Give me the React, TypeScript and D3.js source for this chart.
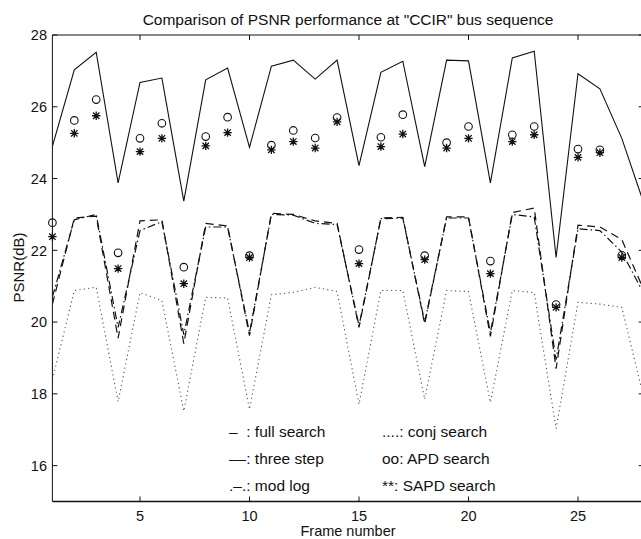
import React from "react";
import * as d3 from "d3";

const frames = [1,2,3,4,5,6,7,8,9,10,11,12,13,14,15,16,17,18,19,20,21,22,23,24,25,26,27,28];

const fullSearch = [24.9,27.03,27.52,23.88,26.68,26.8,23.37,26.75,27.08,24.87,27.13,27.3,26.77,27.3,24.36,26.96,27.27,24.33,27.3,27.28,23.88,27.36,27.55,21.8,26.92,26.5,25.12,23.32];

const threeStep = [20.5,22.9,22.95,19.55,22.82,22.85,19.4,22.75,22.68,19.62,23.03,23.0,22.82,22.75,19.85,22.9,22.92,19.95,22.93,22.93,19.6,23.05,23.18,18.7,22.7,22.65,22.3,20.9];

const modLog = [20.7,22.85,23.0,19.85,22.55,22.8,19.65,22.65,22.65,19.7,23.0,22.98,22.75,22.72,19.9,22.88,22.9,20.0,22.9,22.9,19.7,23.0,22.93,18.95,22.6,22.55,21.95,20.8];

const conjSearch = [18.4,20.88,20.97,17.78,20.82,20.6,17.52,20.69,20.67,17.57,20.76,20.83,20.97,20.85,17.71,20.88,20.88,17.85,20.88,20.85,17.76,20.88,20.82,17.03,20.55,20.5,20.41,17.9];

const apdFrames = [1,2,3,4,5,6,7,8,9,10,11,12,13,14,15,16,17,18,19,20,21,22,23,24,25,26,27];
const apdSearch = [22.77,25.62,26.2,21.93,25.12,25.54,21.53,25.17,25.71,21.85,24.93,25.34,25.13,25.7,22.02,25.15,25.78,21.85,25.0,25.45,21.7,25.22,25.45,20.49,24.82,24.8,21.86];
const sapdSearch = [22.38,25.26,25.75,21.49,24.75,25.12,21.07,24.91,25.28,21.8,24.8,25.03,24.85,25.58,21.63,24.89,25.24,21.74,24.85,25.12,21.35,25.03,25.22,20.41,24.59,24.72,21.8];

const xTicks = [5, 10, 15, 20, 25];
const yTicks = [16, 18, 20, 22, 24, 26, 28];

const titleText = 'Comparison of PSNR performance at "CCIR" bus sequence';
const xLabel = "Frame number";
const yLabel = "PSNR(dB)";
const legendLeft = ["–  : full search", "––: three step", ".–.: mod log"];
const legendRight = ["....: conj search", "oo: APD search", "**: SAPD search"];

const W = 641, H = 539;
const FONT = "'Liberation Sans', Arial, Helvetica, sans-serif";

export default function App() {
  const x = d3.scaleLinear().domain([1, 28]).range([52.4, 643.7]);
  const y = d3.scaleLinear().domain([15, 28]).range([501.5, 35]);
  const [x0, x1] = x.range();
  const [yb, yt] = y.range();

  const mk = (vals: number[]) =>
    d3.line<number>().x((_, i) => x(frames[i])).y((d) => y(d))(vals) || "";

  const tickLen = 5;

  return (
    <div style={{ position: "absolute", left: 0, top: 0 }}>
      <svg width={W} height={H} style={{ display: "block", background: "#fff" }} fontFamily={FONT}>
        <defs>
          <clipPath id="plotclip">
            <rect x={x0} y={yt} width={x1 - x0} height={yb - yt} />
          </clipPath>
        </defs>
        <rect x={0} y={0} width={W} height={H} fill="#fff" />

        <g clipPath="url(#plotclip)" fill="none">
          <path d={mk(conjSearch)} stroke="#555" strokeWidth={1.1} strokeDasharray="1.2,3.2" />
          <path d={mk(modLog)} stroke="#111" strokeWidth={1.2} strokeDasharray="8,3,1.5,3" />
          <path d={mk(threeStep)} stroke="#111" strokeWidth={1.2} strokeDasharray="8,5" />
          <path d={mk(fullSearch)} stroke="#111" strokeWidth={1.1} />
        </g>

        {/* APD circles */}
        <g fill="none" stroke="#111" strokeWidth={1.1}>
          {apdSearch.map((v, i) => (
            <circle key={"c" + i} cx={x(apdFrames[i])} cy={y(v)} r={3.8} />
          ))}
        </g>
        {/* SAPD stars */}
        <g fill="none" stroke="#111" strokeWidth={1.3}>
          {sapdSearch.map((v, i) => {
            const cx = x(apdFrames[i]);
            const cy = y(v);
            const a = 4.2, b = 3.2;
            return (
              <path
                key={"s" + i}
                d={`M${cx - a},${cy}L${cx + a},${cy}M${cx},${cy - a}L${cx},${cy + a}M${cx - b},${cy - b}L${cx + b},${cy + b}M${cx - b},${cy + b}L${cx + b},${cy - b}`}
              />
            );
          })}
        </g>

        {/* axes box */}
        <g stroke="#111" strokeWidth={1} fill="none">
          <line x1={x0} y1={yb} x2={x1} y2={yb} strokeWidth={1.5} />
          <line x1={x0} y1={yt} x2={x1} y2={yt} />
          <line x1={x0} y1={yt} x2={x0} y2={yb} />
          <line x1={x1} y1={yt} x2={x1} y2={yb} />
          {xTicks.map((t) => (
            <g key={"xt" + t}>
              <line x1={x(t)} y1={yb} x2={x(t)} y2={yb - tickLen} />
              <line x1={x(t)} y1={yt} x2={x(t)} y2={yt + tickLen} />
            </g>
          ))}
          {yTicks.map((t) => (
            <g key={"yt" + t}>
              <line x1={x0} y1={y(t)} x2={x0 + tickLen} y2={y(t)} />
              <line x1={x1} y1={y(t)} x2={x1 - tickLen} y2={y(t)} />
            </g>
          ))}
        </g>

        {/* tick labels */}
        <g fill="#111" fontSize={14.5}>
          {xTicks.map((t) => (
            <text key={"xl" + t} x={x(t)} y={521} textAnchor="middle">
              {t}
            </text>
          ))}
          {yTicks.map((t) => (
            <text key={"yl" + t} x={47} y={y(t) + 5.2} textAnchor="end">
              {t}
            </text>
          ))}
        </g>

        <text x={348} y={25} textAnchor="middle" fontSize={15.5} fill="#111">
          {titleText}
        </text>
        <text x={348} y={536} textAnchor="middle" fontSize={14.5} fill="#111">
          {xLabel}
        </text>
        <text
          transform={`translate(23.5,267.5) rotate(-90)`}
          textAnchor="middle"
          fontSize={15}
          fill="#111"
        >
          {yLabel}
        </text>

        {/* legend text */}
        <g fontSize={15.5} fill="#111" style={{ whiteSpace: "pre" }}>
          {legendLeft.map((s, i) => (
            <text key={"ll" + i} x={229} y={436.5 + i * 27} xmlSpace="preserve">
              {s}
            </text>
          ))}
          {legendRight.map((s, i) => (
            <text key={"lr" + i} x={382} y={436.5 + i * 27} xmlSpace="preserve">
              {s}
            </text>
          ))}
        </g>
      </svg>
    </div>
  );
}
